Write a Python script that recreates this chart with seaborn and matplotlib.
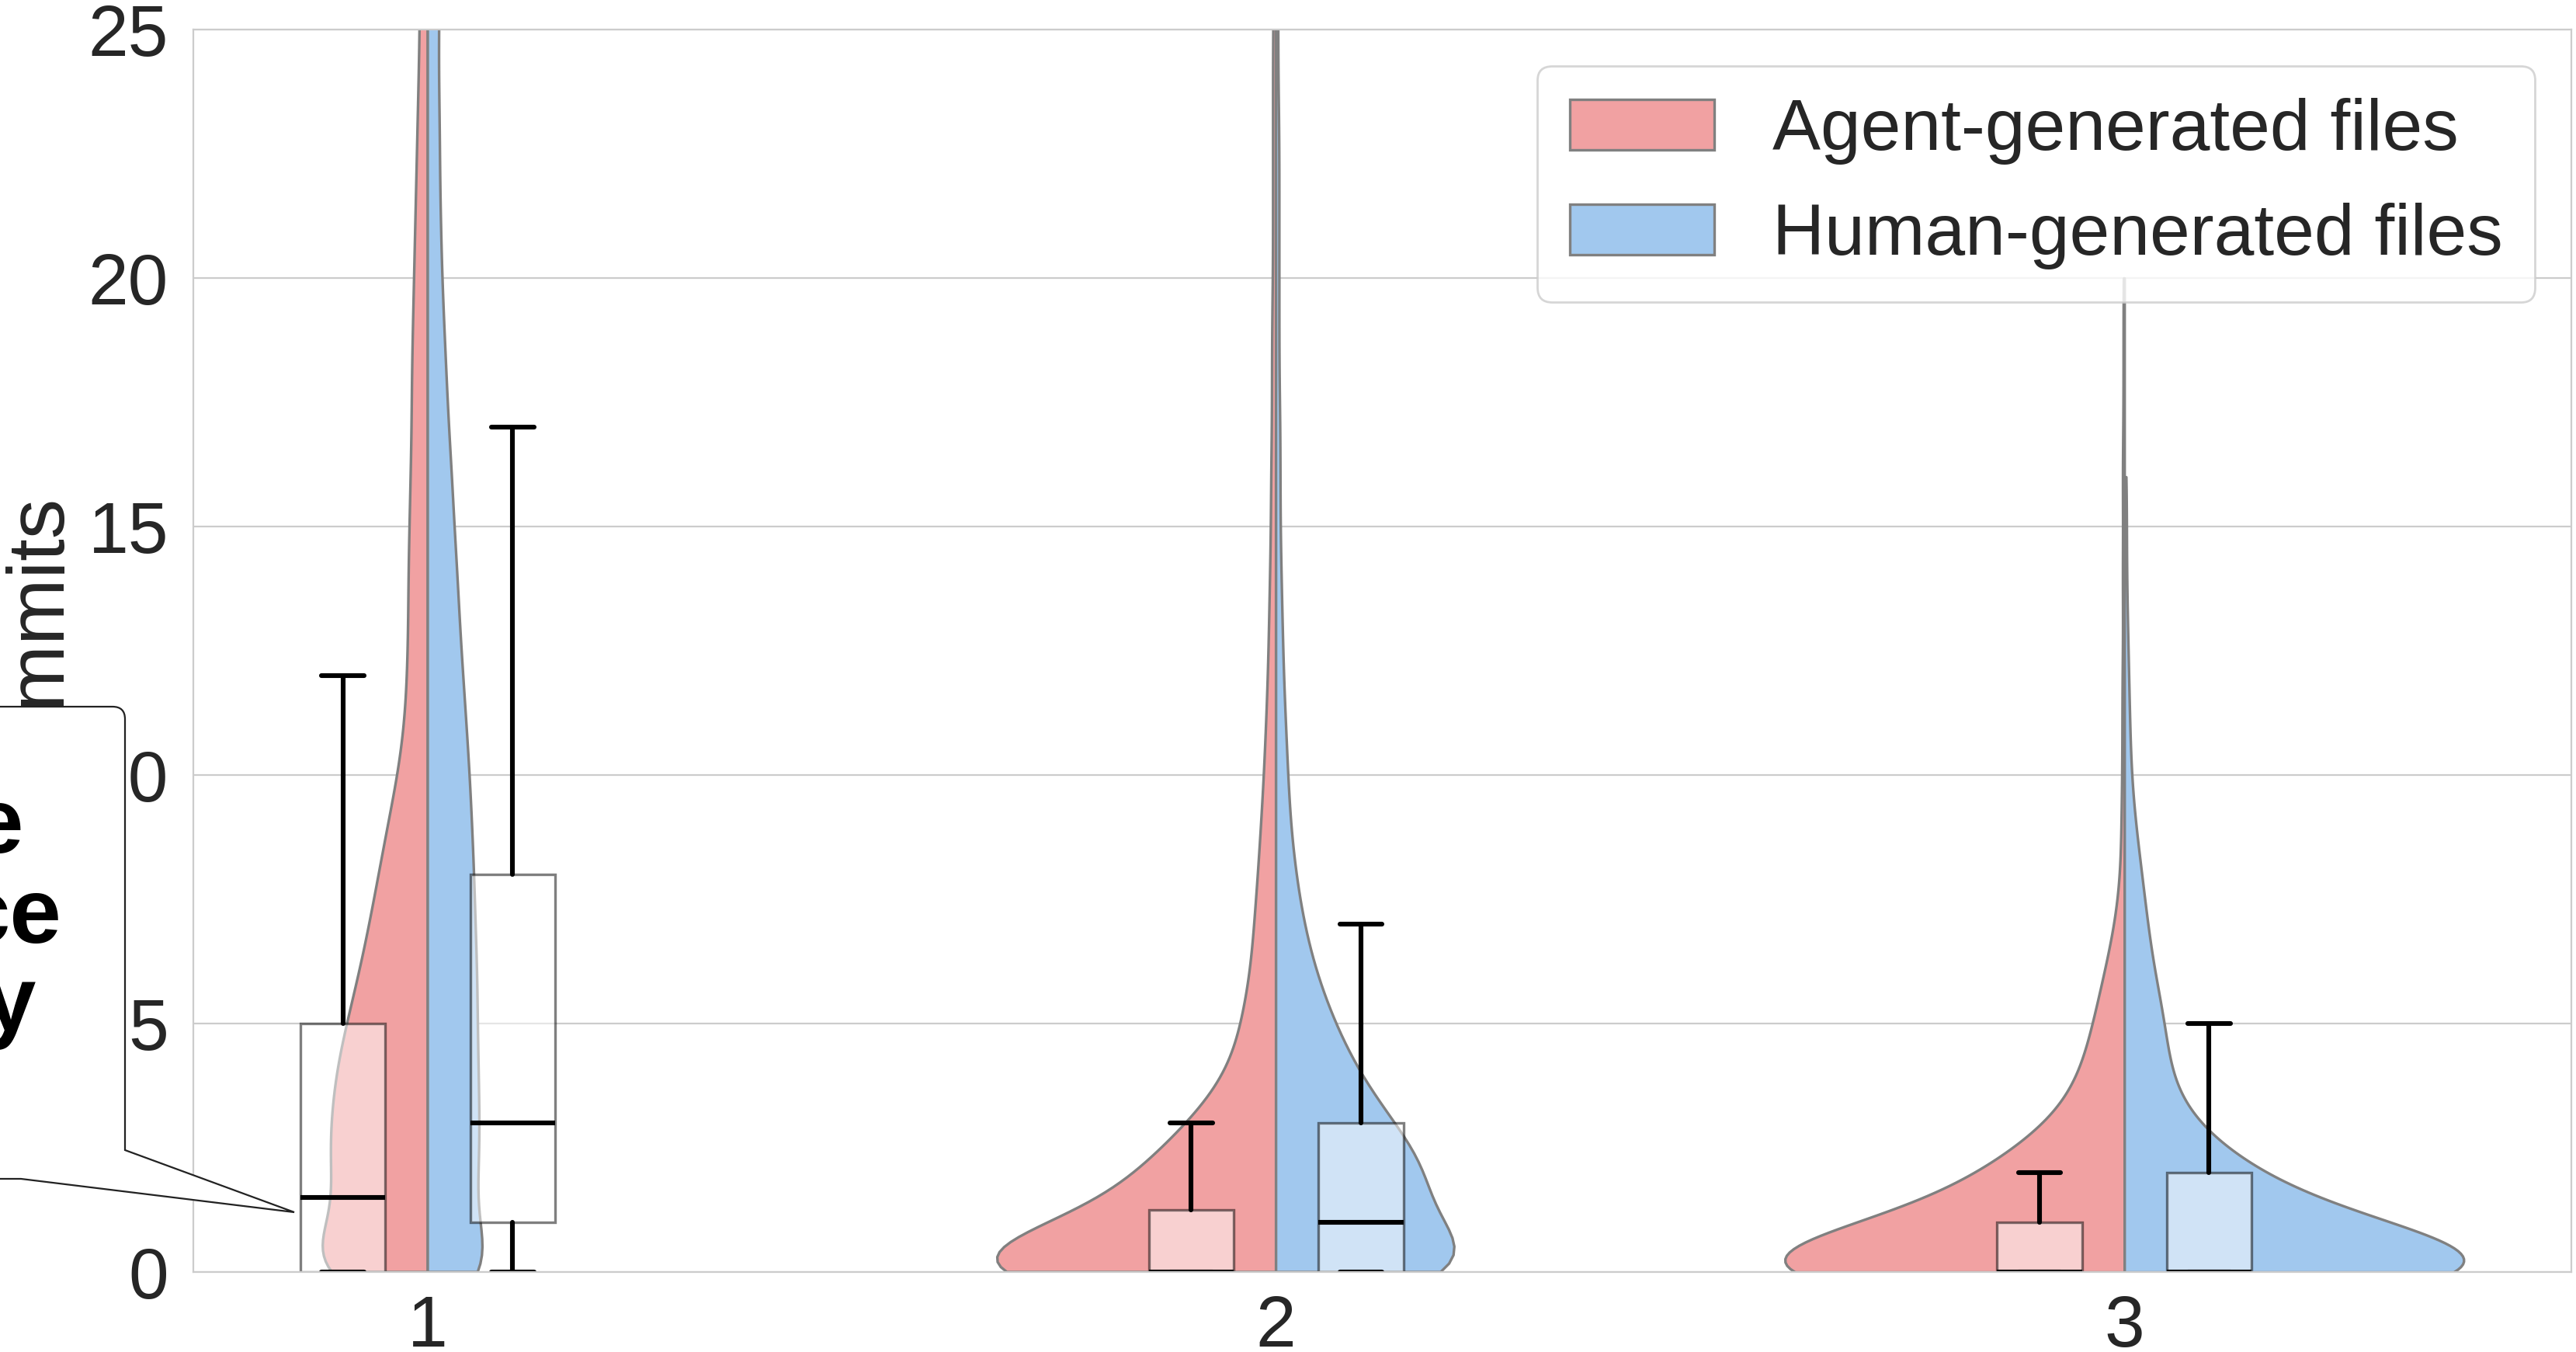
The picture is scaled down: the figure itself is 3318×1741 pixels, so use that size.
import numpy as np
import pandas as pd
import matplotlib.pyplot as plt
import seaborn as sns
from matplotlib.path import Path
from matplotlib.patches import PathPatch

# how many files had N commits (list index = N), per bucket and source
buckets = ["1", "2", "3"]
sources = ["Agent-generated files", "Human-generated files"]

agent_counts_1 = [130, 75, 87, 85, 81, 71, 60, 51, 43, 35, 26, 20, 18, 17, 17, 16, 15, 14, 14, 13,
                  12, 11, 10, 9, 8, 7, 7, 6, 5, 4, 3, 2, 2]
agent_counts_2 = [450, 183, 142, 86, 45, 35, 25, 22, 18, 15, 12, 10, 8, 7, 6, 5, 5, 4, 4, 4,
                  3, 3, 3, 3, 3, 3, 2, 2, 2, 2, 2]
agent_counts_3 = [490, 187, 130, 59, 38, 28, 18, 8, 3, 3, 2, 2, 2, 1, 2, 1, 2, 1, 1, 1, 1]

human_counts_1 = [70, 40, 47, 47, 46, 45, 45, 43, 42, 40, 38, 35, 32, 29, 27, 24, 22, 19, 17, 15,
                  13, 12, 11, 11, 10, 10, 11, 10, 11, 10, 11, 10, 11, 10, 11, 10, 11, 10, 11, 10,
                  11, 10, 11, 10, 11, 10, 10, 10, 10, 10, 10]
human_counts_2 = [233, 128, 146, 106, 74, 53, 36, 25, 18, 13, 11, 9, 7, 6, 5, 4, 4, 4, 3, 3,
                  3, 3, 3, 3, 2, 2, 2, 2, 2, 7, 7, 6, 6, 6, 6, 6, 6, 6, 6, 6,
                  6, 6, 6, 6, 6, 6, 6, 6, 6, 6, 6, 6]
human_counts_3 = [501, 196, 120, 57, 40, 38, 27, 21, 16, 10, 6, 5, 4, 3, 2, 2, 2]

# box summaries (lower whisker is 0 everywhere)
agent_q1 = [0, 0, 0]
agent_median = [1.5, 0, 0]
agent_q3 = [5, 1.25, 1]
agent_whisker = [12, 3, 2]
human_q1 = [1, 0, 0]
human_median = [3, 1, 0]
human_q3 = [8, 3, 2]
human_whisker = [17, 7, 5]

agent_counts = [agent_counts_1, agent_counts_2, agent_counts_3]
human_counts = [human_counts_1, human_counts_2, human_counts_3]

frames = []
for b, a_c, h_c in zip(buckets, agent_counts, human_counts):
    for src, counts in ((sources[0], a_c), (sources[1], h_c)):
        vals = np.repeat(np.arange(len(counts)), counts)
        frames.append(pd.DataFrame({"files": b, "source": src, "commits": vals}))
df = pd.concat(frames, ignore_index=True)

sns.set_style("whitegrid")
plt.rcParams["font.family"] = ["Liberation Sans", "DejaVu Sans"]

fig = plt.figure(figsize=(16.59, 8.705), dpi=200)
ax = fig.add_axes([0.07505, 0.05916, 0.92315, 0.91901])

sns.violinplot(data=df, x="files", y="commits", hue="source", order=buckets, hue_order=sources,
               split=True, inner=None, cut=0, density_norm="area", common_norm=False,
               bw_method=lambda k: 0.8 / k.dataset.std(ddof=1), gridsize=300,
               palette=["#F1A1A2", "#A1C8EE"], saturation=1, linecolor="0.5", linewidth=1.2, ax=ax)

stats, pos = [], []
for i in range(len(buckets)):
    stats.append(dict(whislo=0, q1=agent_q1[i], med=agent_median[i], q3=agent_q3[i],
                      whishi=agent_whisker[i], fliers=[]))
    pos.append(i - 0.1)
    stats.append(dict(whislo=0, q1=human_q1[i], med=human_median[i], q3=human_q3[i],
                      whishi=human_whisker[i], fliers=[]))
    pos.append(i + 0.1)

ax.bxp(stats, positions=pos, widths=0.1, patch_artist=True, showfliers=False, manage_ticks=False,
       boxprops=dict(facecolor=(1, 1, 1, 0.5), edgecolor=(0, 0, 0, 0.5), linewidth=1.2),
       whiskerprops=dict(color="black", linewidth=2.2),
       capprops=dict(color="black", linewidth=2.2),
       medianprops=dict(color="black", linewidth=2.2))

ax.set_xlim(-0.2764, 2.527)
ax.set_ylim(0, 25)
ax.set_xlabel("")
ax.set_ylabel("Commits", fontsize=37, labelpad=4.8)
ax.tick_params(axis="both", labelsize=33.5)
ax.tick_params(axis="y", pad=8)
ax.tick_params(axis="x", pad=6.8)

sns.move_legend(ax, "upper right", title=None, fontsize=33.5, labelspacing=0.52,
                borderpad=0.45, handletextpad=0.8, borderaxespad=0.5)

# callout box laid over the left edge
W, H = 3318, 1741
def fx(x):
    return x / W
def fy(y):
    return 1 - y / H

verts = [(-30, 1518), (27, 1518), (379, 1561), (161, 1481), (161, 926), (161, 910),
         (145, 910), (-30, 910), (-30, 1518)]
codes = [Path.MOVETO, Path.LINETO, Path.LINETO, Path.LINETO, Path.LINETO, Path.CURVE3,
         Path.CURVE3, Path.LINETO, Path.CLOSEPOLY]
callout = PathPatch(Path([(fx(x), fy(y)) for x, y in verts], codes), transform=fig.transFigure,
                    facecolor="white", edgecolor="#222222", linewidth=0.8, zorder=10)
fig.add_artist(callout)

for txt, x, y in (("e", 30, 1098), ("ce", 79, 1214), ("y", 46, 1327)):
    fig.text(fx(x), fy(y), txt, ha="right", va="baseline", fontsize=43, fontweight="bold",
             color="black", zorder=11)

fig.savefig("out.png", dpi=200)
